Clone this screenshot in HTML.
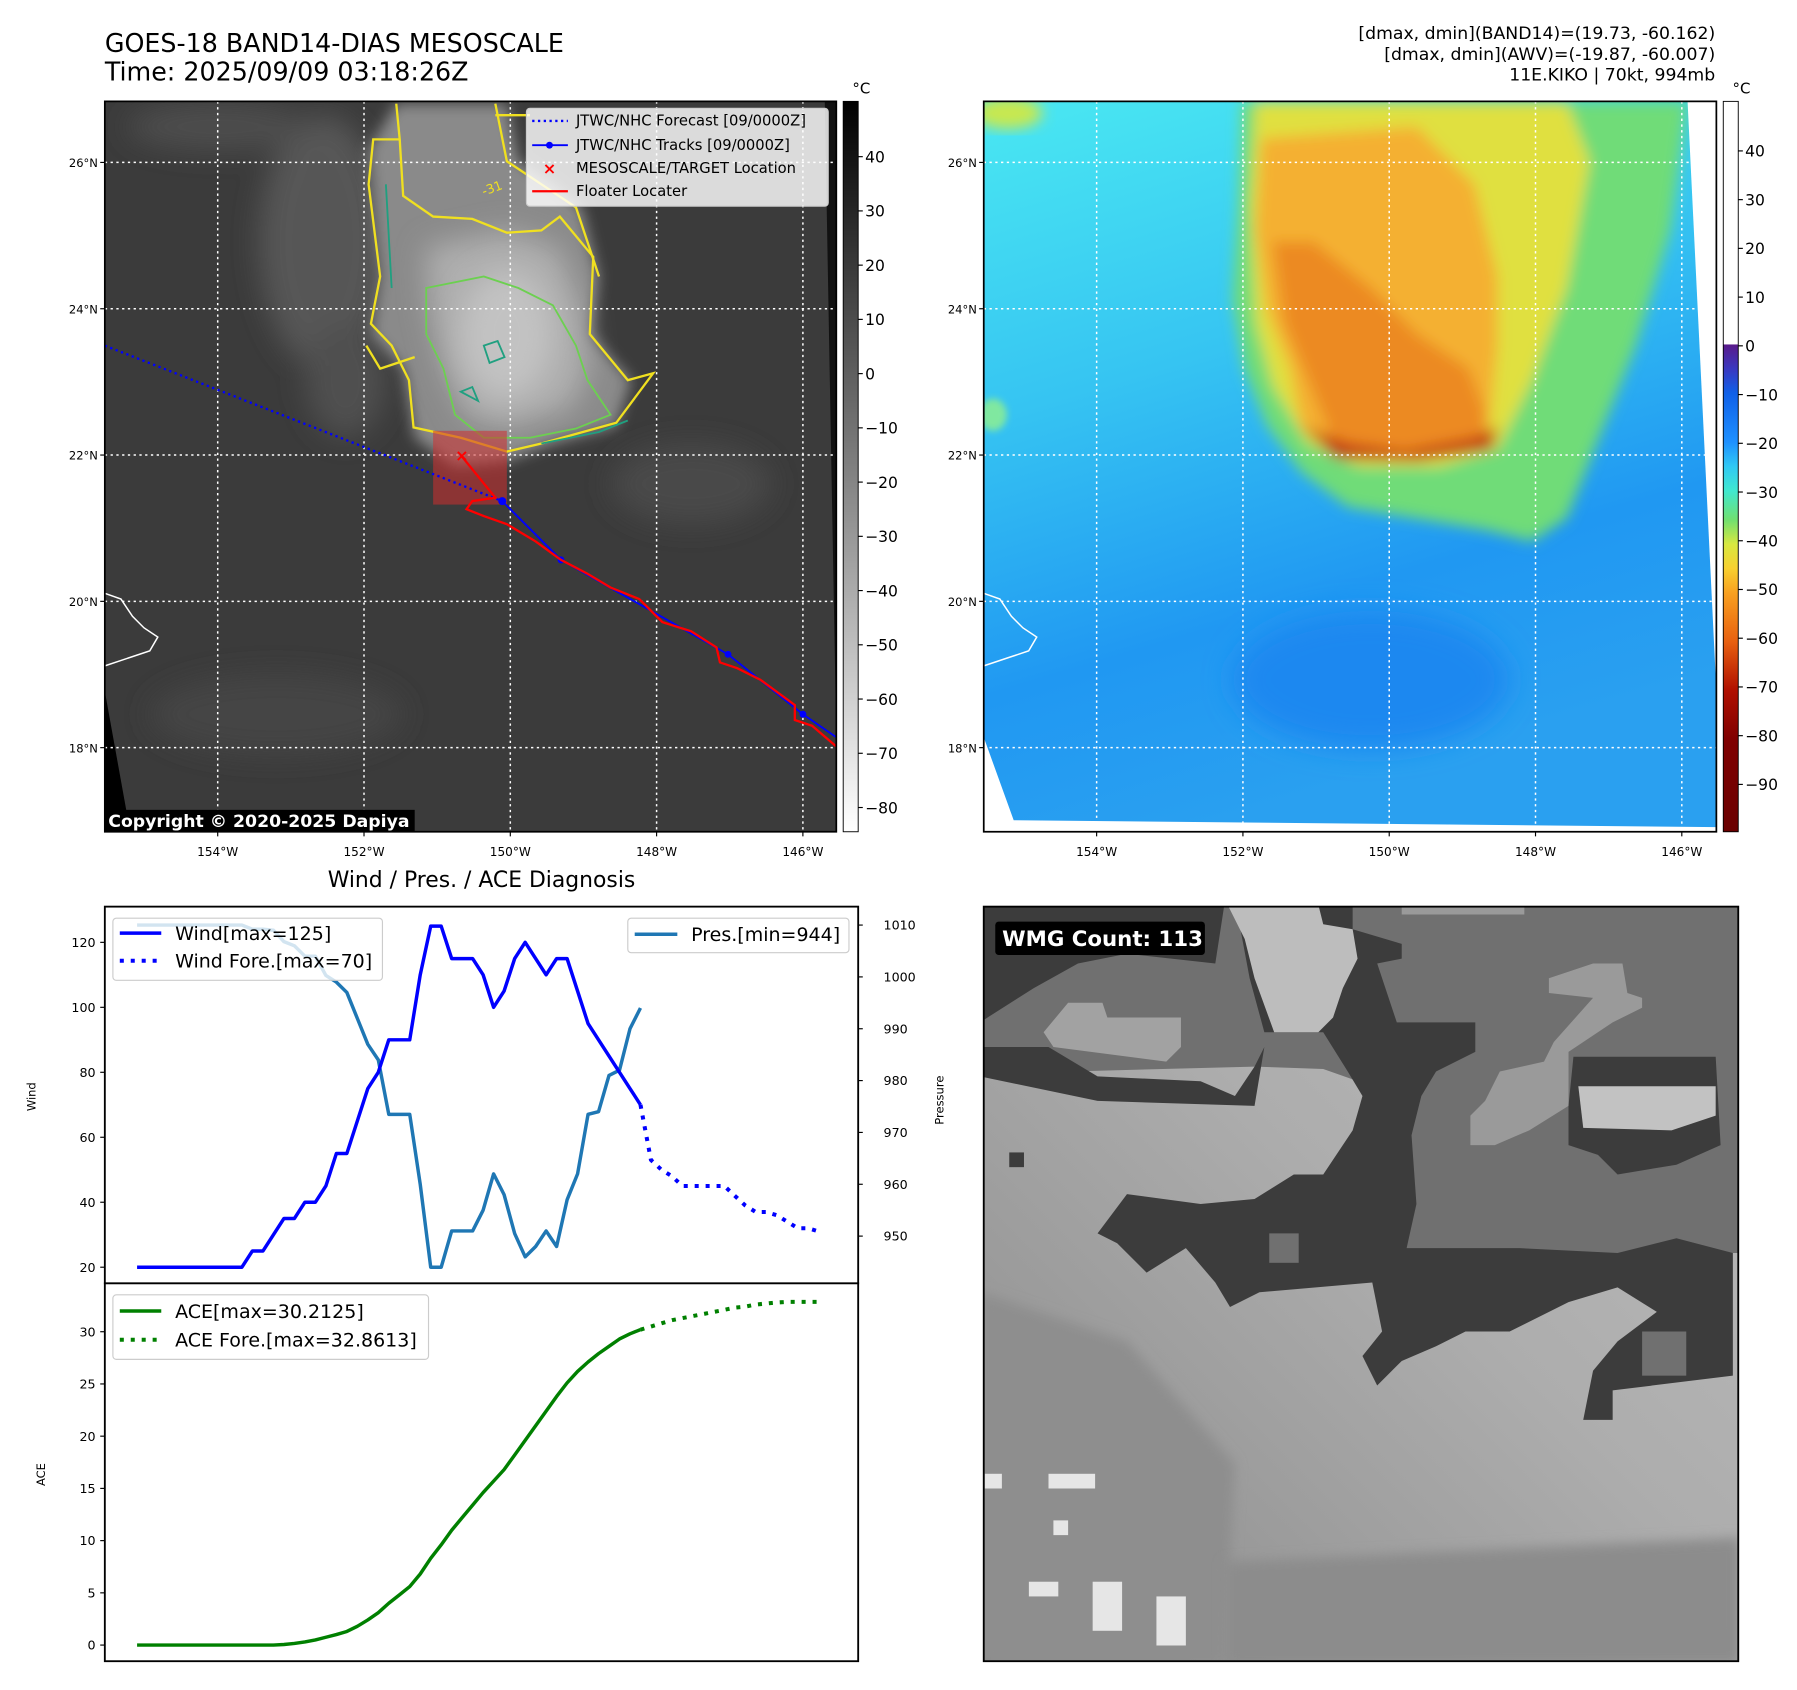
<!DOCTYPE html>
<html><head><meta charset="utf-8">
<style>
html,body{margin:0;padding:0;background:#fff;}
#root{position:relative;width:1797px;height:1690px;overflow:hidden;}
svg text{font-family:"DejaVu Sans","Liberation Sans",sans-serif;}
</style></head>
<body>
<div id="root">
<svg id="fig" width="1797" height="1690" viewBox="0 0 1560 1467" preserveAspectRatio="none" xmlns="http://www.w3.org/2000/svg">
<defs>
  <filter id="blur6" x="-20%" y="-20%" width="140%" height="140%"><feGaussianBlur stdDeviation="6"/></filter>
  <filter id="blur3" x="-20%" y="-20%" width="140%" height="140%"><feGaussianBlur stdDeviation="3"/></filter>
  <filter id="blur12" x="-30%" y="-30%" width="160%" height="160%"><feGaussianBlur stdDeviation="12"/></filter>
  <clipPath id="clipL"><rect x="91" y="88" width="635" height="634"/></clipPath>
  <clipPath id="clipR"><rect x="854" y="88" width="636" height="634"/></clipPath>
  <clipPath id="clipB"><rect x="8" y="14" width="1538" height="1538"/></clipPath>
  <linearGradient id="cbGray" x1="0" y1="0" x2="0" y2="1">
    <stop offset="0" stop-color="#000"/><stop offset="1" stop-color="#fff"/>
  </linearGradient>
  <linearGradient id="cbColor" x1="0" y1="0" x2="0" y2="1">
    <stop offset="0" stop-color="#5a1a8a"/>
    <stop offset="0.05" stop-color="#3a38c0"/>
    <stop offset="0.10" stop-color="#1060e8"/>
    <stop offset="0.20" stop-color="#1e90ff"/>
    <stop offset="0.25" stop-color="#30c8f4"/>
    <stop offset="0.30" stop-color="#40e8d0"/>
    <stop offset="0.36" stop-color="#70e070"/>
    <stop offset="0.41" stop-color="#d8e840"/>
    <stop offset="0.46" stop-color="#f8d030"/>
    <stop offset="0.51" stop-color="#f8a020"/>
    <stop offset="0.61" stop-color="#e86010"/>
    <stop offset="0.71" stop-color="#b01000"/>
    <stop offset="0.81" stop-color="#800000"/>
    <stop offset="1" stop-color="#6a0000"/>
  </linearGradient>
  <linearGradient id="ocean" x1="0" y1="0" x2="0.3" y2="1">
    <stop offset="0" stop-color="#4ae8f2"/>
    <stop offset="0.4" stop-color="#36c4f2"/>
    <stop offset="0.75" stop-color="#2098f2"/>
    <stop offset="1" stop-color="#2aa0f0"/>
  </linearGradient>
  <linearGradient id="wmgBase" x1="1" y1="0" x2="0" y2="1">
    <stop offset="0" stop-color="#bdbdbd"/>
    <stop offset="0.45" stop-color="#adadad"/>
    <stop offset="1" stop-color="#8a8a8a"/>
  </linearGradient>
</defs>

<!-- titles -->
<text x="91" y="45" font-size="22" fill="#000">GOES-18 BAND14-DIAS MESOSCALE</text>
<text x="91" y="70" font-size="22" fill="#000">Time: 2025/09/09 03:18:26Z</text>
<text x="1489" y="34" font-size="15" text-anchor="end">[dmax, dmin](BAND14)=(19.73, -60.162)</text>
<text x="1489" y="52" font-size="15" text-anchor="end">[dmax, dmin](AWV)=(-19.87, -60.007)</text>
<text x="1489" y="70" font-size="15" text-anchor="end">11E.KIKO | 70kt, 994mb</text>

<!-- LEFT MAP -->
<g clip-path="url(#clipL)">
  <rect x="91" y="88" width="635" height="634" fill="#3b3b3b"/>
  <g filter="url(#blur12)">
    <ellipse cx="280" cy="210" rx="55" ry="110" fill="#565656"/>
    <ellipse cx="300" cy="330" rx="35" ry="50" fill="#505050"/>
    <ellipse cx="190" cy="110" rx="80" ry="20" fill="#4e4e4e"/>
    <ellipse cx="600" cy="420" rx="70" ry="35" fill="#484848"/>
    <ellipse cx="240" cy="620" rx="110" ry="35" fill="#444"/>
  </g>
  <path d="M344,90 L440,90 L450,140 L480,160 L505,180 L520,240 L512,290 L548,330 L535,370 L480,385 L440,400 L395,405 L360,380 L350,320 L322,290 L330,240 L320,130 Z" fill="#8a8a8a" filter="url(#blur6)"/>
  <path d="M370,215 L440,200 L485,215 L505,265 L512,320 L495,355 L440,372 L405,362 L385,320 L372,265 Z" fill="#aeaeae" filter="url(#blur12)"/>
  <ellipse cx="440" cy="290" rx="40" ry="55" fill="#c2c2c2" filter="url(#blur12)"/>
  <polygon points="91,600 113,722 91,722" fill="#000"/>
  <polygon points="716,88 726,88 726,640" fill="#111"/>
  <g stroke="#fff" stroke-width="1.3" stroke-dasharray="2,3">
    <line x1="189" y1="88" x2="189" y2="722"/><line x1="316" y1="88" x2="316" y2="722"/><line x1="443" y1="88" x2="443" y2="722"/><line x1="570" y1="88" x2="570" y2="722"/><line x1="697" y1="88" x2="697" y2="722"/>
    <line x1="91" y1="141" x2="726" y2="141"/><line x1="91" y1="268" x2="726" y2="268"/><line x1="91" y1="395" x2="726" y2="395"/><line x1="91" y1="522" x2="726" y2="522"/><line x1="91" y1="649" x2="726" y2="649"/>
  </g>
  <path d="M344,90 L347,121 L324,121 L320,160 L330,240 L322,281 L340,300 L355,330 L359,371 L400,380 L440,392 L470,385 L535,367 L567,324 L545,330 L512,290 L515,223 L486,188 L470,200 L440,202 L410,190 L376,188 L350,170 L347,121" fill="none" stroke="#f0e020" stroke-width="2"/>
  <path d="M430,90 L440,140 L470,160 L500,180 L520,240 M318,300 L330,320 L360,310 M430,100 L460,100" fill="none" stroke="#f0e020" stroke-width="2"/>
  <path d="M370,250 L420,240 L450,250 L480,265 L500,300 L510,330 L530,360 L500,372 L460,380 L420,380 L395,360 L385,320 L370,290 Z" fill="none" stroke="#6cd050" stroke-width="1.6"/>
  <path d="M335,160 L340,250 M420,300 L432,296 L438,310 L425,315 Z M400,340 L410,336 L415,348 Z M470,385 L520,375 L545,365" fill="none" stroke="#20a080" stroke-width="1.6"/>
  <text x="420" y="170" font-size="11" fill="#f0e020" transform="rotate(-20 420 170)">-31</text>
  <polyline points="91,515 105,520 115,535 125,545 137,553 130,565 115,570 91,578" fill="none" stroke="#fff" stroke-width="1.3"/>
  <rect x="376" y="374" width="64" height="64" fill="#d03030" fill-opacity="0.55"/>
  <polyline points="91,300 436,435" fill="none" stroke="#0000ff" stroke-width="2" stroke-dasharray="2,3"/>
  <polyline points="436,435 487,486 632,568 697,620 726,640" fill="none" stroke="#0000ff" stroke-width="1.6"/>
  <g fill="#0000ff"><circle cx="436" cy="435" r="3.5"/><circle cx="487" cy="486" r="3"/><circle cx="632" cy="568" r="3"/><circle cx="697" cy="620" r="3"/></g>
  <polyline points="400,395 430,432 410,435 405,442 420,448 440,455 465,470 487,486 510,498 530,510 555,520 575,540 600,548 622,562 625,575 640,580 660,590 690,612 690,625 705,630 726,648" fill="none" stroke="#ff0000" stroke-width="2"/>
  <text x="401" y="400" font-size="14" font-weight="bold" fill="#ff0000" text-anchor="middle">×</text>
</g>
<rect x="91" y="88" width="635" height="634" fill="none" stroke="#000" stroke-width="1.5"/>
<g>
  <rect x="457" y="94" width="262" height="85" rx="3" fill="#fff" fill-opacity="0.82" stroke="#ccc"/>
  <line x1="462" y1="105" x2="493" y2="105" stroke="#0000ff" stroke-width="2" stroke-dasharray="2,3"/>
  <text x="500" y="109" font-size="12.8">JTWC/NHC Forecast [09/0000Z]</text>
  <line x1="462" y1="126" x2="493" y2="126" stroke="#0000ff" stroke-width="1.6"/><circle cx="477" cy="126" r="3" fill="#0000ff"/>
  <text x="500" y="130" font-size="12.8">JTWC/NHC Tracks [09/0000Z]</text>
  <text x="477" y="151" font-size="14" font-weight="bold" fill="#ff0000" text-anchor="middle">×</text>
  <text x="500" y="150" font-size="12.8">MESOSCALE/TARGET Location</text>
  <line x1="462" y1="166" x2="493" y2="166" stroke="#ff0000" stroke-width="2"/>
  <text x="500" y="170" font-size="12.8">Floater Locater</text>
</g>
<rect x="91" y="703" width="269" height="19" fill="#000"/>
<text x="94" y="718" font-size="15" font-weight="bold" fill="#fff">Copyright © 2020-2025 Dapiya</text>

<!-- RIGHT MAP -->
<g clip-path="url(#clipR)">
  <rect x="854" y="88" width="636" height="634" fill="url(#ocean)"/>
  <ellipse cx="1190" cy="590" rx="120" ry="60" fill="#1a88f0" filter="url(#blur12)"/>
  <ellipse cx="875" cy="98" rx="30" ry="14" fill="#c8e850" filter="url(#blur6)"/>
  <ellipse cx="862" cy="360" rx="12" ry="14" fill="#80e8a0" filter="url(#blur3)"/>
  <g filter="url(#blur6)">
    <path d="M1078,88 L1465,88 L1450,200 L1420,300 L1400,350 L1380,400 L1360,450 L1330,470 L1290,460 L1230,450 L1170,440 L1130,410 L1100,370 L1080,320 L1070,260 L1075,180 Z" fill="#70dc78"/>
    <path d="M1090,88 L1360,88 L1380,140 L1360,250 L1330,330 L1300,390 L1250,405 L1180,405 L1135,385 L1105,335 L1090,280 L1085,180 Z" fill="#e0e040"/>
    <path d="M1095,120 L1230,110 L1280,160 L1300,240 L1300,300 L1295,350 L1290,385 L1220,398 L1160,392 L1130,372 L1120,320 L1100,270 L1090,200 Z" fill="#f4b030"/>
    <path d="M1105,210 L1140,210 L1190,250 L1230,290 L1275,320 L1290,360 L1285,385 L1220,396 L1160,390 L1140,340 L1115,280 Z" fill="#ec8a20"/>
    <path d="M1130,370 L1170,385 L1220,392 L1280,380 L1300,370 L1295,390 L1230,400 L1160,398 Z" fill="#c03010"/>
  </g>
  <polygon points="854,640 880,712 1490,718 1490,722 854,722" fill="#fff"/>
  <polygon points="1465,88 1490,88 1490,600" fill="#fff"/>
  <g stroke="#fff" stroke-width="1.3" stroke-dasharray="2,3">
    <line x1="952" y1="88" x2="952" y2="722"/><line x1="1079" y1="88" x2="1079" y2="722"/><line x1="1206" y1="88" x2="1206" y2="722"/><line x1="1333" y1="88" x2="1333" y2="722"/><line x1="1460" y1="88" x2="1460" y2="722"/>
    <line x1="854" y1="141" x2="1490" y2="141"/><line x1="854" y1="268" x2="1490" y2="268"/><line x1="854" y1="395" x2="1490" y2="395"/><line x1="854" y1="522" x2="1490" y2="522"/><line x1="854" y1="649" x2="1490" y2="649"/>
  </g>
  <polyline points="854,515 868,520 878,535 888,545 900,553 893,565 878,570 854,578" fill="none" stroke="#fff" stroke-width="1.3"/>
</g>
<rect x="854" y="88" width="636" height="634" fill="none" stroke="#000" stroke-width="1.5"/>

<rect x="732" y="88" width="13" height="634" fill="url(#cbGray)" stroke="#000" stroke-width="0.8"/>
<text x="740" y="81" font-size="13">°C</text>
<rect x="1496" y="88" width="13" height="211" fill="#fff"/>
<rect x="1496" y="299" width="13" height="423" fill="url(#cbColor)"/>
<rect x="1496" y="88" width="13" height="634" fill="none" stroke="#000" stroke-width="0.8"/>
<text x="1504" y="81" font-size="13">°C</text>
<g id="cbticks"></g>
<g id="mapticks"></g>

<text x="418" y="770" font-size="19" text-anchor="middle">Wind / Pres. / ACE Diagnosis</text>
<rect x="91" y="787" width="654" height="327" fill="#fff" stroke="#000" stroke-width="1.6"/>
<rect x="91" y="1114" width="654" height="328" fill="#fff" stroke="#000" stroke-width="1.6"/>
<g id="chart"></g>
<text transform="translate(31 952) rotate(-90)" font-size="10" text-anchor="middle">Wind</text>
<text transform="translate(819 955) rotate(-90)" font-size="10" text-anchor="middle">Pressure</text>
<text transform="translate(39 1280) rotate(-90)" font-size="10" text-anchor="middle">ACE</text>
<g>
  <rect x="98" y="797" width="234" height="54" rx="3" fill="#fff" fill-opacity="0.8" stroke="#ccc"/>
  <line x1="104" y1="810" x2="140" y2="810" stroke="#0000ff" stroke-width="3"/>
  <text x="152" y="816" font-size="16.5">Wind[max=125]</text>
  <line x1="104" y1="834" x2="140" y2="834" stroke="#0000ff" stroke-width="3.5" stroke-dasharray="3.5,6"/>
  <text x="152" y="840" font-size="16.5">Wind Fore.[max=70]</text>
</g>
<g>
  <rect x="545" y="797" width="192" height="30" rx="3" fill="#fff" fill-opacity="0.8" stroke="#ccc"/>
  <line x1="551" y1="811" x2="588" y2="811" stroke="#1f77b4" stroke-width="3"/>
  <text x="600" y="817" font-size="16.5">Pres.[min=944]</text>
</g>
<g>
  <rect x="98" y="1124" width="274" height="56" rx="3" fill="#fff" fill-opacity="0.8" stroke="#ccc"/>
  <line x1="104" y1="1138" x2="140" y2="1138" stroke="#008000" stroke-width="3"/>
  <text x="152" y="1144" font-size="16.5">ACE[max=30.2125]</text>
  <line x1="104" y1="1163" x2="140" y2="1163" stroke="#008000" stroke-width="3.5" stroke-dasharray="3.5,6"/>
  <text x="152" y="1169" font-size="16.5">ACE Fore.[max=32.8613]</text>
</g>

<svg x="854" y="787" width="655" height="655" viewBox="8 14 1538 1538" preserveAspectRatio="none">
  <g clip-path="url(#clipB)">
  <rect x="0" y="0" width="1560" height="1560" fill="url(#wmgBase)"/>
  <polygon points="0,800 300,900 520,1150 500,1560 0,1560" fill="#8e8e8e" filter="url(#blur12)"/>
  <polygon points="500,1350 1550,1300 1550,1560 500,1560" fill="#8c8c8c" filter="url(#blur12)"/>
  <polygon points="0,0 1560,0 1560,720 870,720 860,420 800,380 700,345 560,340 0,355" fill="#707070"/>
  <polygon points="0,0 500,0 480,130 300,110 200,130 110,180 0,250" fill="#3c3c3c"/>
  <polygon points="0,300 140,300 240,360 450,370 520,400 560,340 580,300 560,420 240,410 0,360" fill="#3c3c3c"/>
  <polygon points="130,270 180,210 250,210 260,240 410,240 410,300 380,330 150,300" fill="#a2a2a2"/>
  <polygon points="520,0 760,0 760,60 860,90 860,120 810,130 850,250 1010,250 1010,310 930,350 900,400 880,480 890,620 870,710 1100,710 1300,720 1420,690 1535,720 1535,970 1290,1000 1290,1060 1230,1060 1250,960 1300,900 1380,840 1300,790 1200,820 1080,880 990,880 930,910 860,940 810,990 780,930 820,880 800,780 570,800 510,830 480,780 420,710 340,760 280,700 240,680 300,600 450,620 560,610 640,560 700,560 760,470 780,400 750,350 700,270 580,270 550,160" fill="#3c3c3c"/>
  <polygon points="505,10 690,10 700,50 760,60 770,120 740,180 720,240 690,270 600,270 560,160 540,80" fill="#bdbdbd"/>
  <polygon points="860,10 1110,10 1110,30 860,30" fill="#9a9a9a"/>
  <polygon points="1000,440 1030,410 1060,350 1150,330 1170,290 1250,200 1160,190 1160,160 1250,130 1310,130 1320,190 1350,200 1350,220 1290,250 1200,310 1200,420 1120,470 1050,500 1000,500" fill="#9a9a9a"/>
  <polygon points="1210,320 1500,320 1510,500 1420,540 1300,560 1260,520 1200,500 1200,420" fill="#3c3c3c"/>
  <polygon points="1220,380 1500,380 1500,440 1410,470 1230,465" fill="#c2c2c2"/>
  <rect x="590" y="680" width="60" height="60" fill="#707070"/>
  <rect x="1350" y="880" width="90" height="90" fill="#707070"/>
  <rect x="60" y="515" width="30" height="30" fill="#3c3c3c"/>
  <g fill="#e6e6e6"><rect x="10" y="1170" width="35" height="30"/><rect x="140" y="1170" width="95" height="30"/><rect x="100" y="1390" width="60" height="30"/><rect x="230" y="1390" width="60" height="100"/><rect x="360" y="1420" width="60" height="100"/><rect x="150" y="1265" width="30" height="30"/></g>
  </g>
</svg>
<rect x="854" y="787" width="655" height="655" fill="none" stroke="#000" stroke-width="1.6"/>
<rect x="864" y="800" width="182" height="29" rx="3" fill="#000"/>
<text x="870" y="821" font-size="18.5" font-weight="bold" fill="#fff">WMG Count: 113</text>
</svg>
</div>
<script>
const windObs = [20,20,20,20,20,20,20,20,20,20,20,25,25,30,35,35,40,40,45,55,55,65,75,80,90,90,90,110,125,125,115,115,115,110,100,105,115,120,115,110,115,115,105,95,90,85,80,75,70];
const windFore = [70,53,50,48,45,45,45,45,45,42,39,37,37,36,34,32,32,31];
const presObs = [1010,1010,1010,1010,1010,1010,1010,1010,1010,1010,1010,1009.2,1009.2,1009,1006.8,1006,1004,1004,1000.3,999,997,992,987,984,973.5,973.5,973.5,960,944,944,951,951,951,955,962,958,950.5,946,948,951,948,957,962,973.5,974,981,982,990,994];
const aceObs = [0,0,0,0,0,0,0,0,0,0,0,0,0,0,0.05,0.15,0.3,0.5,0.75,1.0,1.3,1.8,2.4,3.1,4.0,4.8,5.6,6.8,8.3,9.6,11.0,12.2,13.4,14.6,15.7,16.8,18.2,19.6,21.0,22.4,23.8,25.1,26.2,27.1,27.9,28.6,29.3,29.8,30.2];
const aceFore = [30.2,30.5,30.8,31.1,31.3,31.5,31.7,31.9,32.1,32.3,32.4,32.6,32.7,32.8,32.86,32.86,32.86,32.86];
const windTicks = [20,40,60,80,100,120];
const presTicks = [950,960,970,980,990,1000,1010];
const aceTicks = [0,5,10,15,20,25,30];
const irTicks = [40,30,20,10,0,-10,-20,-30,-40,-50,-60,-70,-80];
const awvTicks = [40,30,20,10,0,-10,-20,-30,-40,-50,-60,-70,-80,-90];
const lonTicks = ["154°W","152°W","150°W","148°W","146°W"];
const latTicks = ["26°N","24°N","22°N","20°N","18°N"];

const NS = 'http://www.w3.org/2000/svg';
const xIdx = i => 119 + i * (556 - 119) / 48;
const yWind = v => 1100 - (v - 20) * 2.82;
const yPres = v => 803 + (1010 - v) * 4.5;
const yAce = v => 1428 - v * (272 / 30);
const chart = document.getElementById('chart');
function mk(tag, parent) { const e = document.createElementNS(NS, tag); parent.appendChild(e); return e; }
function line(parent, pts, color, w, dash) {
  const p = mk('polyline', parent);
  p.setAttribute('points', pts.map(q => q[0].toFixed(1) + ',' + q[1].toFixed(1)).join(' '));
  p.setAttribute('fill', 'none'); p.setAttribute('stroke', color); p.setAttribute('stroke-width', w);
  p.setAttribute('stroke-linejoin', 'round');
  if (dash) p.setAttribute('stroke-dasharray', dash);
  return p;
}
function txt(parent, x, y, s, size, anchor) {
  const t = mk('text', parent); t.setAttribute('x', x); t.setAttribute('y', y);
  t.setAttribute('font-size', size); t.setAttribute('text-anchor', anchor || 'start'); t.textContent = s; return t;
}
function tick(parent, x1, y1, x2, y2) {
  const l = mk('line', parent); l.setAttribute('x1', x1); l.setAttribute('y1', y1); l.setAttribute('x2', x2); l.setAttribute('y2', y2);
  l.setAttribute('stroke', '#000'); l.setAttribute('stroke-width', 1); return l;
}
let el;
el = line(chart, presObs.map((v, i) => [xIdx(i), yPres(v)]), '#1f77b4', 3);


el = line(chart, windObs.map((v, i) => [xIdx(i), yWind(v)]), '#0000ff', 3);


el = line(chart, windFore.map((v, i) => [xIdx(i + 48), yWind(v)]), '#0000ff', 3.5, '3.5,6');


el = line(chart, aceObs.map((v, i) => [xIdx(i), yAce(v)]), '#008000', 3);


el = line(chart, aceFore.map((v, i) => [xIdx(i + 48), yAce(v)]), '#008000', 3.5, '3.5,6');


windTicks.forEach(v => { tick(chart, 87, yWind(v), 91, yWind(v));
  el = txt(chart, 83, yWind(v) + 4, String(v), 11, 'end');
  
   });
presTicks.forEach(v => { tick(chart, 745, yPres(v), 749, yPres(v));
  el = txt(chart, 767, yPres(v) + 4, String(v), 11, 'start');
  
   });
aceTicks.forEach(v => { tick(chart, 87, yAce(v), 91, yAce(v));
  el = txt(chart, 83, yAce(v) + 4, String(v), 11, 'end');
  
   });
const cb = document.getElementById('cbticks');
const fmt = v => v < 0 ? '\u2212' + Math.abs(v) : String(v);
irTicks.forEach(v => { const y = 136 + (40 - v) * 4.708; tick(cb, 745, y, 749, y);
  el = txt(cb, 751, y + 5, fmt(v), 13.5, 'start');
  
   });
awvTicks.forEach(v => { const y = 131 + (40 - v) * 4.23; tick(cb, 1509, y, 1513, y);
  el = txt(cb, 1515, y + 5, fmt(v), 13.5, 'start');
  
   });
const mt = document.getElementById('mapticks');
[0, 763].forEach(off => {
  lonTicks.forEach((s, i) => { const x = 189 + i * 127 + off; tick(mt, x, 722, x, 726);
    el = txt(mt, x, 743, s, 10.5, 'middle');
    
     });
  latTicks.forEach((s, i) => { const y = 141 + i * 127; const x0 = (off ? 854 : 91);
    tick(mt, x0 - 4, y, x0, y);
    el = txt(mt, x0 - 6, y + 4, s, 10, 'end');
    
     });
});
</script>
</body></html>
